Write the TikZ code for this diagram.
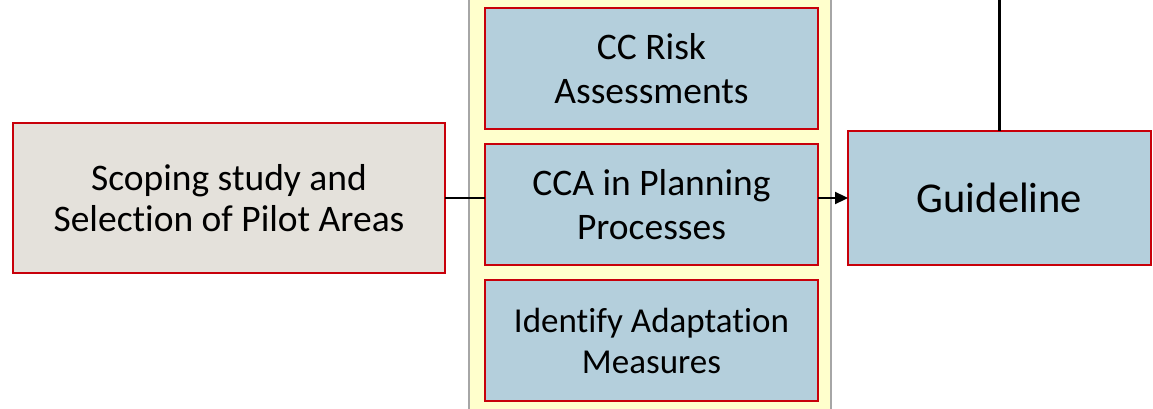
\documentclass[tikz,border=0pt]{standalone}
\usepackage{fontspec}
\setmainfont[Ligatures=NoCommon]{Carlito}
\usetikzlibrary{arrows.meta}
\definecolor{boxblue}{HTML}{B4CFDC}
\definecolor{boxgrey}{HTML}{E4E1DB}
\definecolor{panelyellow}{HTML}{FFFFCC}
\definecolor{redline}{HTML}{C8000A}
\definecolor{greyline}{HTML}{A6A6A6}
\tikzset{
  redbox/.style={draw=redline, line width=1.5pt, align=center, inner sep=0pt, outer sep=0pt},
  midbox/.style={redbox, fill=boxblue, minimum width=333pt, minimum height=121pt, font=\fontsize{37.5}{44}\selectfont},
  conn/.style={line width=2.2pt, draw=black},
}
\begin{document}
\begin{tikzpicture}[x=1pt,y=-1pt]
\useasboundingbox (0,0) rectangle (1153,409);
\clip (0,0) rectangle (1153,409);
\node[draw=greyline, line width=1.5pt, fill=panelyellow, minimum width=362pt, minimum height=440pt, inner sep=0pt] (panel) at (650,204.5) {};
\node[redbox, fill=boxgrey, minimum width=432pt, minimum height=150pt, font=\fontsize{37.5}{41}\selectfont] (scope) at (229,198) {Scoping study and\\Selection of Pilot Areas};
\node[midbox] (risk) at (651.5,68.5) {CC Risk\\Assessments};
\node[midbox] (cca) at (651.5,204.5) {CCA in Planning\\Processes};
\node[midbox, font=\fontsize{35}{41}\selectfont] (ident) at (651.5,340.5) {Identify Adaptation\\Measures};
\node[redbox, fill=boxblue, minimum width=303pt, minimum height=134pt, font=\fontsize{42.5}{50}\selectfont] (guide) at (999.5,198) {Guideline};
\coordinate (topend) at (999.5,-2);
\draw[conn] (scope.east) -- (scope.east -| cca.west);
\draw[conn, -{Triangle[length=13pt,width=12pt]}] (cca.east |- guide.west) -- (guide.west);
\draw[conn] (topend) -- (guide.north);
\end{tikzpicture}
\end{document}
